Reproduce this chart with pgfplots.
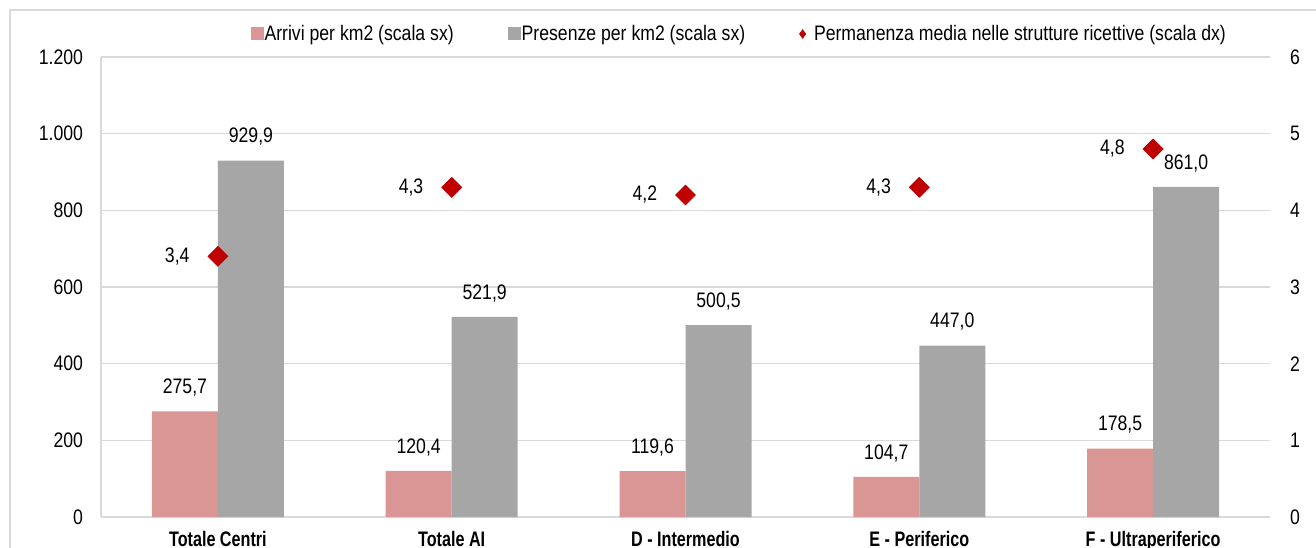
\documentclass[border=0pt]{standalone}
\usepackage{fontspec}
\setmainfont{Liberation Sans}[FakeStretch=0.84, BoldFeatures={FakeStretch=0.77}]
\usepackage{pgfplots}
\pgfplotsset{compat=1.18}
\definecolor{pinkbar}{HTML}{DA9694}
\definecolor{graybar}{HTML}{A6A6A6}
\definecolor{darkred}{HTML}{C00000}
\definecolor{gridc}{HTML}{D9D9D9}
\newcommand{\fs}{\fontsize{10.5}{12}\selectfont}
\begin{document}
\begin{tikzpicture}[font=\fs]
\useasboundingbox (0pt,0pt) rectangle (658pt,273.5pt);
\clip (0pt,0pt) rectangle (658pt,273.5pt);
\draw[gridc, line width=0.9pt] (5pt,-10pt) -- (5pt,268.5pt) -- (670pt,268.5pt);
\begin{axis}[
  at={(50.5pt,15pt)}, anchor=south west,
  scale only axis, width=584.5pt, height=230pt,
  xmin=-0.5, xmax=4.5, ymin=0, ymax=1200,
  ybar=0pt, bar width=33pt,
  xtick={0,1,2,3,4},
  xticklabels={Totale Centri, Totale AI, D - Intermedio, E - Periferico, F - Ultraperiferico},
  xticklabel style={font=\fs\bfseries, yshift=-3.8pt},
  ytick={0,200,...,1200},
  ymajorgrids, grid style={gridc, line width=0.75pt},
  axis x line*=bottom, axis y line*=left,
  x axis line style={-, gridc, line width=1.3pt},
  y axis line style={-, gridc, line width=0.75pt},
  major tick length=0pt,
  scaled y ticks=false,
  /pgf/number format/.cd, use comma, 1000 sep={.}, assume math mode=true,
  /pgfplots/.cd,
  yticklabel style={xshift=-5.5pt},
  nodes near coords={\pgfmathprintnumber[fixed,fixed zerofill,precision=1,use comma,1000 sep={.}]{\pgfplotspointmeta}},
  every node near coord/.append style={black, yshift=4pt, font=\fs},
  legend columns=3,
  legend style={draw=none, fill=none, at={(0.5455,1.05)}, anchor=center, font=\fs,
    /tikz/every even column/.append style={column sep=26.5pt},
    nodes={inner sep=0.5pt}},
]
\addplot[fill=pinkbar, draw=none,
  legend image code/.code={\fill[pinkbar] (0pt,-3.25pt) rectangle (6.5pt,3.25pt);}]
  coordinates {(0,275.7) (1,120.4) (2,119.6) (3,104.7) (4,178.5)};
\addlegendentry{Arrivi per km2 (scala sx)}
\addplot[fill=graybar, draw=none,
  legend image code/.code={\fill[graybar] (0pt,-3.25pt) rectangle (6.5pt,3.25pt);}]
  coordinates {(0,929.9) (1,521.9) (2,500.5) (3,447.0) (4,861.0)};
\addlegendentry{Presenze per km2 (scala sx)}
\addlegendimage{legend image code/.code={\fill[darkred] (1.5pt,-2.1pt)--(3pt,0pt)--(1.5pt,2.1pt)--(0pt,0pt)--cycle; \path (6.5pt,0pt);}}
\addlegendentry{Permanenza media nelle strutture ricettive (scala dx)}
\end{axis}
\begin{axis}[
  at={(50.5pt,15pt)}, anchor=south west,
  scale only axis, width=584.5pt, height=230pt,
  xmin=-0.5, xmax=4.5, ymin=0, ymax=6,
  axis x line=none, axis y line*=right,
  y axis line style={draw=none},
  ytick={0,1,...,6},
  major tick length=0pt,
  /pgf/number format/assume math mode=true,
  yticklabel style={xshift=6.5pt},
]
\addplot[only marks, mark=square*, mark size=3.5pt,
  mark options={rotate=45, fill=darkred, draw=darkred},
  nodes near coords={\pgfmathprintnumber[fixed,fixed zerofill,precision=1,use comma]{\pgfplotspointmeta}},
  every node near coord/.style={anchor=east, xshift=-14pt, inner sep=0pt, black, font=\fs}]
  coordinates {(0,3.4) (1,4.3) (2,4.2) (3,4.3) (4,4.8)};
\end{axis}
\end{tikzpicture}
\end{document}
